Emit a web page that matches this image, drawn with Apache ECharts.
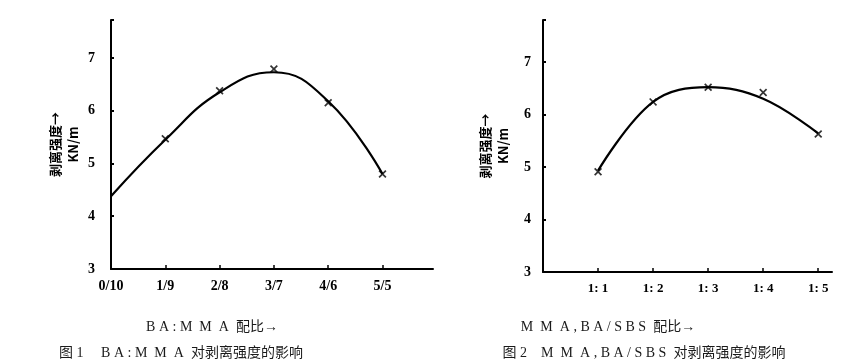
<!DOCTYPE html>
<html><head><meta charset="utf-8">
<script src="https://cdn.jsdelivr.net/npm/echarts@6/dist/echarts.min.js"></script>
<style>html,body{margin:0;padding:0;background:#fff}#c{width:856px;height:363px}</style>
</head><body><div id="c"></div>
<script>
// Figure 1: BA:MMA ratio
const labels1 = ['0/10', '1/9', '2/8', '3/7', '4/6', '5/5'];
const curve1 = [4.38, 5.45, 6.35, 6.73, 6.18, 4.80];
const marks1X = [1, 2, 3, 4, 5];
const marks1 = [5.47, 6.38, 6.79, 6.15, 4.80];
// Figure 2: MMA,BA/SBS ratio
const labels2 = ['', '1: 1', '1: 2', '1: 3', '1: 4', '1: 5'];
const curve2X = [1, 2, 3, 4, 5];
const curve2 = [4.93, 6.24, 6.52, 6.30, 5.64];
const marks2 = [4.91, 6.24, 6.52, 6.42, 5.63];
const yTicks = [3, 4, 5, 6, 7];

const serif = "'Liberation Serif', 'DejaVu Serif', serif";
const cjk = "'Liberation Serif', 'Noto Sans CJK SC', serif";
const X = 'path://M0,1.5L1.5,0L5,3.5L8.5,0L10,1.5L6.5,5L10,8.5L8.5,10L5,6.5L1.5,10L0,8.5L3.5,5Z';

function yAxis(grid, labelMargin, nameGap) {
  return {
    type: 'value', gridIndex: grid, min: 3, max: grid === 0 ? 7.72 : 7.8, interval: 1,
    name: '剥离强度→\nKN/m', nameLocation: 'middle', nameRotate: 90, nameGap: nameGap,
    nameTextStyle: { fontFamily: "'Noto Sans CJK SC', sans-serif", fontSize: 13, fontWeight: 'bold', color: '#000', lineHeight: 18 },
    axisLine: { show: true, lineStyle: { color: '#000', width: 2 } },
    axisTick: { show: true, inside: true, length: 3, lineStyle: { color: '#000', width: 2 } },
    splitLine: { show: false },
    axisLabel: { margin: labelMargin, fontFamily: serif, fontWeight: 'bold', fontSize: 14, color: '#000',
      formatter: v => yTicks.includes(v) ? String(v) : '' }
  };
}
function xAxis(grid, max, labels, fs) {
  return {
    type: 'value', gridIndex: grid, min: 0, max: max, interval: 1,
    axisLine: { show: true, lineStyle: { color: '#000', width: 2 } },
    axisTick: { show: true, inside: true, length: 4, lineStyle: { color: '#000', width: 1.5 } },
    splitLine: { show: false },
    axisLabel: { margin: 10, fontFamily: serif, fontWeight: 'bold', fontSize: fs, color: '#000',
      showMaxLabel: false,
      formatter: v => (Number.isInteger(v) && labels[v] !== undefined) ? labels[v] : '' }
  };
}
const capStyle = { fontFamily: cjk, fontSize: 14, fontWeight: 'normal', color: '#1a1a1a' };

const chart = echarts.init(document.getElementById('c'), null, { renderer: 'canvas' });
chart.setOption({
  animation: false,
  backgroundColor: '#fff',
  grid: [
    { left: 111, top: 20, width: 322, height: 249 },
    { left: 543, top: 20, width: 289, height: 252 }
  ],
  xAxis: [xAxis(0, 5.93, labels1, 14), xAxis(1, 5.25, labels2, 13)],
  yAxis: [yAxis(0, 16, 29), yAxis(1, 12, 31)],
  title: [
    { text: 'B A : M  M  A  配比→', left: 207, top: 315, textAlign: 'center', textStyle: capStyle },
    { text: '图 1     B A : M  M  A  对剥离强度的影响', left: 176, top: 341, textAlign: 'center', textStyle: capStyle },
    { text: 'M  M  A , B A / S B S  配比→', left: 603, top: 315, textAlign: 'center', textStyle: capStyle },
    { text: '图 2    M  M  A , B A / S B S  对剥离强度的影响', left: 639, top: 341, textAlign: 'center', textStyle: capStyle }
  ],
  series: [
    { type: 'line', xAxisIndex: 0, yAxisIndex: 0, smooth: 0.45, showSymbol: false,
      lineStyle: { color: '#000', width: 2.2 },
      data: curve1.map((v, i) => [i, v]) },
    { type: 'scatter', xAxisIndex: 0, yAxisIndex: 0, symbol: X, symbolSize: 8,
      itemStyle: { color: '#000' },
      data: marks1.map((v, i) => [marks1X[i], v]) },
    { type: 'line', xAxisIndex: 1, yAxisIndex: 1, smooth: 0.38, showSymbol: false,
      lineStyle: { color: '#000', width: 2.2 },
      data: curve2.map((v, i) => [curve2X[i], v]) },
    { type: 'scatter', xAxisIndex: 1, yAxisIndex: 1, symbol: X, symbolSize: 8,
      itemStyle: { color: '#000' },
      data: marks2.map((v, i) => [curve2X[i], v]) }
  ]
});
</script></body></html>
